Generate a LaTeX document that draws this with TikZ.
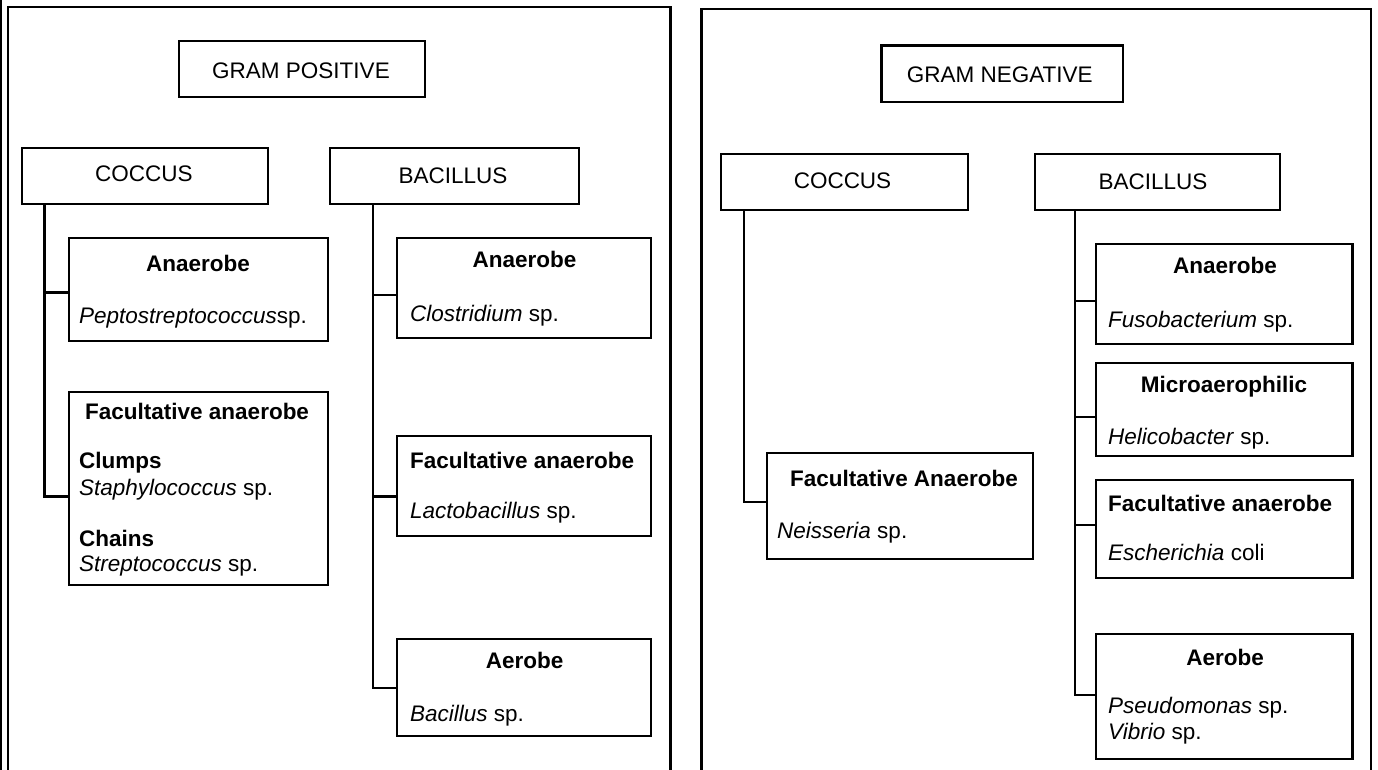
\documentclass[tikz,border=0pt]{standalone}
\usepackage{fontspec}
\setmainfont{Liberation Sans}
\begin{document}
\begin{tikzpicture}[x=1pt,y=-1pt,
  bx/.style={draw, line width=2.4pt, inner sep=0pt, anchor=north west},
  conn/.style={line width=2.4pt},
  frame/.style={line width=2.3pt},
  txt/.style={inner sep=0pt, text height=16pt, text depth=0pt, font=\fontsize{22.5}{26}\selectfont},
  tl/.style={txt, anchor=west},
  tc/.style={txt, anchor=center}]
\useasboundingbox (0,0) rectangle (1378,769);
\clip (0,0) rectangle (1378,769);
% frames
\draw[frame] (1,-5) -- (1,780);
\draw[frame] (8,7) rectangle (670.6,790);
\draw[frame] (701.4,9.3) rectangle (1371,790);
% ---------- Gram positive ----------
\node[bx, minimum width=246pt, minimum height=56pt] (gp) at (178,40) {};
\node[tc] (gpt) at (301,70) {GRAM POSITIVE};
\node[bx, minimum width=245.5pt, minimum height=56pt] (lcoc) at (21,147) {};
\node[tc] (lcoct) at (143.8,173) {COCCUS};
\node[bx, minimum width=249pt, minimum height=56pt] (lbac) at (329,147) {};
\node[tc] (lbact) at (453,175) {BACILLUS};
% coccus children
\node[bx, minimum width=259pt, minimum height=103pt] (pep) at (68,237) {};
\node[tc] (pep1) at (198,263) {\textbf{Anaerobe}};
\node[tl] (pep2) at (79,315) {\textit{Peptostreptococcus}sp.};
\node[bx, minimum width=259pt, minimum height=193pt] (lfac) at (68,391) {};
\node[tl] (lf1) at (85,411) {\textbf{Facultative anaerobe}};
\node[tl] (lf2) at (79,460) {\textbf{Clumps}};
\node[tl] (lf3) at (79,487) {\textit{Staphylococcus} sp.};
\node[tl] (lf4) at (79,538.6) {\textbf{Chains}};
\node[tl] (lf5) at (79,563) {\textit{Streptococcus} sp.};
% bacillus children
\node[bx, minimum width=254pt, minimum height=99.6pt] (clo) at (396,237) {};
\node[tc] (clo1) at (524.6,259) {\textbf{Anaerobe}};
\node[tl] (clo2) at (410,313) {\textit{Clostridium} sp.};
\node[bx, minimum width=254pt, minimum height=100pt] (lac) at (396,435) {};
\node[tl] (lac1) at (410,460) {\textbf{Facultative anaerobe}};
\node[tl] (lac2) at (410,510) {\textit{Lactobacillus} sp.};
\node[bx, minimum width=254pt, minimum height=97pt] (bac) at (396,638) {};
\node[tc] (bac1) at (524.6,660) {\textbf{Aerobe}};
\node[tl] (bac2) at (410,713) {\textit{Bacillus} sp.};
% connectors left
\draw[conn] ([xshift=23.6pt]lcoc.south west) |- (pep.west |- 0,292.5);
\draw[conn] ([xshift=23.6pt]lcoc.south west) |- (lfac.west |- 0,496.6);
\draw[conn] ([xshift=43.8pt]lbac.south west) |- (clo.west |- 0,295);
\draw[conn] ([xshift=43.8pt]lbac.south west) |- (lac.west |- 0,496.6);
\draw[conn] ([xshift=43.8pt]lbac.south west) |- (bac.west |- 0,688);
% ---------- Gram negative ----------
\node[bx, minimum width=241.3pt, minimum height=56.4pt] (gn) at (880.4,44.3) {};
\node[tc] (gnt) at (999.7,74) {GRAM NEGATIVE};
\node[bx, minimum width=247pt, minimum height=56.3pt] (rcoc) at (720,152.7) {};
\node[tc] (rcoct) at (842.5,180) {COCCUS};
\node[bx, minimum width=245pt, minimum height=56.3pt] (rbac) at (1034,152.7) {};
\node[tc] (rbact) at (1153,181) {BACILLUS};
\node[bx, minimum width=265.7pt, minimum height=106pt] (neis) at (766,452) {};
\node[tc] (neis1) at (904,478) {\textbf{Facultative Anaerobe}};
\node[tl] (neis2) at (777,530) {\textit{Neisseria} sp.};
\node[bx, minimum width=256.4pt, minimum height=99.5pt] (fuso) at (1095,243) {};
\node[tc] (fuso1) at (1225,265.5) {\textbf{Anaerobe}};
\node[tl] (fuso2) at (1108,319) {\textit{Fusobacterium} sp.};
\node[bx, minimum width=256.4pt, minimum height=93pt] (micro) at (1095,362) {};
\node[tc] (micro1) at (1224,384.6) {\textbf{Microaerophilic}};
\node[tl] (micro2) at (1108,436) {\textit{Helicobacter} sp.};
\node[bx, minimum width=256.4pt, minimum height=98pt] (ecoli) at (1095,479) {};
\node[tl] (ecoli1) at (1108,503.6) {\textbf{Facultative anaerobe}};
\node[tl] (ecoli2) at (1108,552.6) {\textit{Escherichia} coli};
\node[bx, minimum width=256.4pt, minimum height=124.5pt] (aer) at (1095,633) {};
\node[tc] (aer1) at (1225,657) {\textbf{Aerobe}};
\node[tl] (aer2) at (1108,705) {\textit{Pseudomonas} sp.};
\node[tl] (aer3) at (1108,731) {\textit{Vibrio} sp.};
% connectors right
\draw[conn] ([xshift=23.7pt]rcoc.south west) |- (neis.west |- 0,502);
\draw[conn] ([xshift=41pt]rbac.south west) |- (fuso.west |- 0,301);
\draw[conn] ([xshift=41pt]rbac.south west) |- (micro.west |- 0,417);
\draw[conn] ([xshift=41pt]rbac.south west) |- (ecoli.west |- 0,525);
\draw[conn] ([xshift=41pt]rbac.south west) |- (aer.west |- 0,695);
\end{tikzpicture}
\end{document}
